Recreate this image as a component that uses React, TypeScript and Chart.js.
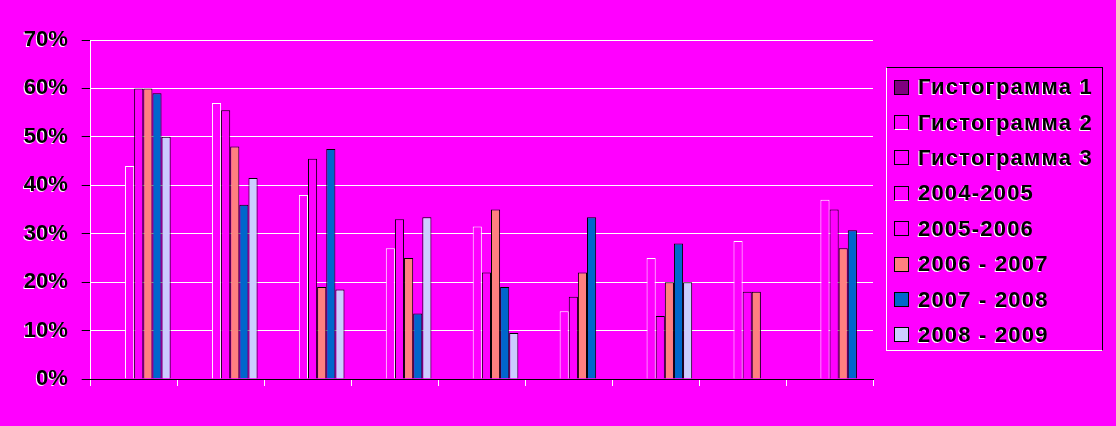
import React, { useEffect, useRef } from 'react';
import { Chart, registerables } from 'chart.js';

Chart.register(...registerables);

// Nine unlabeled groups along the horizontal axis
const categories = ['', '', '', '', '', '', '', '', ''];

const seriesLabels = [
  'Гистограмма 1',
  'Гистограмма 2',
  'Гистограмма 3',
  '2004-2005',
  '2005-2006',
  '2006 - 2007',
  '2007 - 2008',
  '2008 - 2009',
];

// Values in percent; null means no bar in that group
const histogram1: (number | null)[] = [null, null, null, null, null, null, null, null, null];
const histogram2: (number | null)[] = [null, null, null, null, null, null, null, null, null];
const histogram3: (number | null)[] = [null, null, null, null, null, null, null, null, null];
const year2004_2005: (number | null)[] = [44, 57, 38, 27, 31.5, 14, 25, 28.5, 37];
const year2005_2006: (number | null)[] = [60, 55.5, 45.5, 33, 22, 17, 13, 18, 35];
const year2006_2007: (number | null)[] = [60, 48, 19, 25, 35, 22, 20, 18, 27];
const year2007_2008: (number | null)[] = [59, 36, 47.5, 13.5, 19, 33.4, 28, null, 30.7];
const year2008_2009: (number | null)[] = [50, 41.5, 18.5, 33.4, 9.5, null, 20, null, null];

const seriesValues = [
  histogram1,
  histogram2,
  histogram3,
  year2004_2005,
  year2005_2006,
  year2006_2007,
  year2007_2008,
  year2008_2009,
];

const yTicks = [0, 10, 20, 30, 40, 50, 60, 70];

// Styling
const PAGE_BG = '#FF00FF';
const fillColors = ['#800080', '#FF00FF', '#FF00FF', '#FF00FF', '#FF00FF', '#FF8080', '#0066CC', '#CCCCFF'];
const edgeColors = ['#000000', '#FFFFFF', '#000000', '#FFFFFF', '#000000', '#000000', '#000000', '#000000'];
const FONT_FAMILY = '"Liberation Sans", Arial, Helvetica, sans-serif';

// Draws the value-axis labels with a thin white offset halo
const tickHalo = {
  id: 'tickHalo',
  afterLayout(chart: any) {
    const scale = chart.scales.y;
    if (!scale || scale.__halo) return;
    const drawLabels = scale.drawLabels.bind(scale);
    scale.drawLabels = (area: any) => {
      const ctx = chart.ctx;
      ctx.save();
      ctx.shadowColor = '#ffffff';
      ctx.shadowOffsetX = -1;
      ctx.shadowOffsetY = 1;
      ctx.shadowBlur = 0;
      drawLabels(area);
      ctx.restore();
    };
    scale.__halo = true;
  },
};

export default function App() {
  const canvasRef = useRef<HTMLCanvasElement | null>(null);

  useEffect(() => {
    const canvas = canvasRef.current;
    if (!canvas) return;

    const chart = new Chart(canvas, {
      type: 'bar',
      data: {
        labels: categories,
        datasets: seriesValues.map((values, i) => ({
          label: seriesLabels[i],
          data: values,
          backgroundColor: fillColors[i],
          borderColor: edgeColors[i],
          borderWidth: 1,
          categoryPercentage: 0.84,
          barPercentage: 1,
        })),
      },
      options: {
        responsive: false,
        animation: false,
        layout: { padding: { top: 40, right: 243, bottom: 40, left: 0 } },
        plugins: {
          legend: { display: false },
          tooltip: { enabled: false },
        },
        scales: {
          x: {
            type: 'category',
            grid: {
              display: true,
              drawOnChartArea: false,
              drawTicks: true,
              tickLength: 7,
              color: '#FFFFFF',
              offset: true,
            },
            border: { display: true, color: '#000000', width: 1, z: 1 },
            ticks: { display: false },
            afterFit: (scale: any) => {
              scale.height = 7;
            },
          },
          y: {
            type: 'linear',
            min: 0,
            max: 70,
            afterBuildTicks: (scale: any) => {
              scale.ticks = yTicks.map((v) => ({ value: v }));
            },
            grid: {
              color: (c: any) => (c.tick && c.tick.value === 0 ? 'rgba(0,0,0,0)' : '#FFFFFF'),
              tickColor: '#000000',
              tickLength: 9,
              lineWidth: 1,
            },
            border: { display: true, color: '#FFFFFF', width: 1 },
            ticks: {
              color: '#000000',
              padding: 14,
              font: { family: FONT_FAMILY, size: 22, weight: 'bold' },
              callback: (v: any) => `${v}%`,
            },
            afterFit: (scale: any) => {
              scale.width = 90.7;
            },
          },
        },
      },
      plugins: [tickHalo],
    });

    return () => chart.destroy();
  }, []);

  return (
    <div
      style={{
        position: 'fixed',
        left: 0,
        top: 0,
        width: 1116,
        height: 426,
        background: PAGE_BG,
        overflow: 'hidden',
      }}
    >
      <canvas ref={canvasRef} width={1116} height={426} style={{ display: 'block', width: 1116, height: 426 }} />
      <div
        style={{
          position: 'absolute',
          left: 886,
          top: 67,
          width: 217,
          height: 284,
          boxSizing: 'border-box',
          borderTop: '1px solid #000',
          borderRight: '1px solid #000',
          borderLeft: '1px solid #fff',
          borderBottom: '1px solid #fff',
        }}
      >
        {seriesLabels.map((label, i) => (
          <div
            key={label}
            style={{
              position: 'absolute',
              left: 7,
              top: 1.5 + i * 35.4,
              height: 35.4,
              display: 'flex',
              alignItems: 'center',
            }}
          >
            <span
              style={{
                display: 'inline-block',
                width: 15,
                height: 15,
                boxSizing: 'border-box',
                background: fillColors[i],
                border: `1px solid ${edgeColors[i] === '#FFFFFF' ? '#000' : edgeColors[i]}`,
                borderBottomColor: edgeColors[i],
              }}
            />
            <span
              style={{
                marginLeft: 9,
                fontFamily: FONT_FAMILY,
                fontWeight: 'bold',
                fontSize: 22,
                letterSpacing: 1.2,
                lineHeight: 1,
                color: '#000',
                textShadow: '-1px 1px 0 #fff',
                whiteSpace: 'nowrap',
              }}
            >
              {label}
            </span>
          </div>
        ))}
      </div>
    </div>
  );
}
